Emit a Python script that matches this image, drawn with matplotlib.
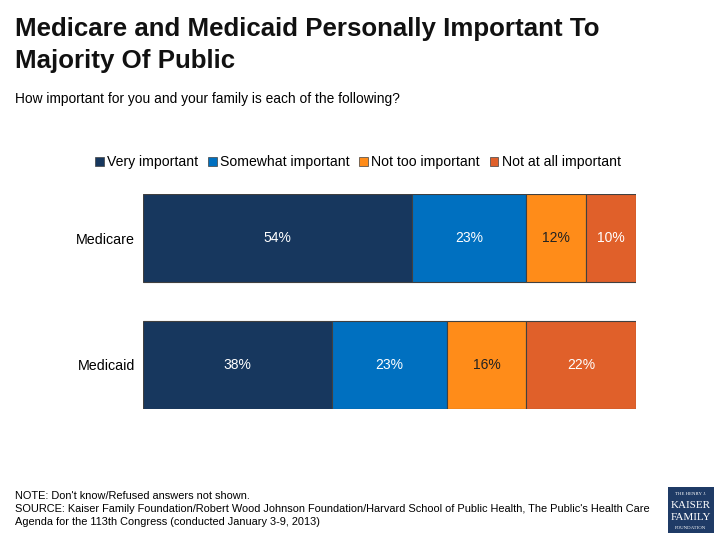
import matplotlib.pyplot as plt
from matplotlib.patches import Patch, Rectangle

plt.rcParams['font.family'] = ['Liberation Sans', 'DejaVu Sans']

programs = ["Medicare", "Medicaid"]
categories = ["Very important", "Somewhat important", "Not too important", "Not at all important"]
values = {
    "Very important": [54, 38],
    "Somewhat important": [23, 23],
    "Not too important": [12, 16],
    "Not at all important": [10, 22],
}
colors = ["#17375E", "#0070C0", "#FF8C19", "#E0602A"]
label_colors = ["white", "white", "#222222", "white"]

fig = plt.figure(figsize=(7.2, 5.4), dpi=100)
ax = fig.add_axes([143 / 720, 1 - 409 / 540, 493 / 720, 215 / 540])

bar_h = 0.693
ypos = list(range(len(programs)))
left = [0] * len(programs)
for cat, col, lc in zip(categories, colors, label_colors):
    vals = values[cat]
    ax.barh(ypos, vals, left=left, height=bar_h, color=col,
            edgecolor="#404040", linewidth=0.8)
    for y, v, l in zip(ypos, vals, left):
        ax.text(l + v / 2, y, f"{v}%", ha="center", va="center",
                color=lc, fontsize=10)
    left = [l + v for l, v in zip(left, vals)]

ax.set_xlim(0, 99)
ax.set_ylim(len(programs) - 1 + bar_h / 2, -bar_h / 2)
ax.set_yticks(ypos)
ax.set_yticklabels(programs, fontsize=10.3)
ax.tick_params(axis="y", length=0, pad=5.5)
ax.set_xticks([])
for s in ax.spines.values():
    s.set_visible(False)

handles = [Patch(facecolor=c, edgecolor="#404040", linewidth=0.5) for c in colors]
fig.legend(handles, categories, loc="center", bbox_to_anchor=(358 / 720, 1 - 162 / 540),
           ncol=4, frameon=False, fontsize=10.1, handlelength=0.6, handleheight=0.6,
           handletextpad=0.25, columnspacing=0.7)

title_lines = ["Medicare and Medicaid Personally Important To", "Majority Of Public"]
for line, base in zip(title_lines, [36, 68]):
    fig.text(15 / 720, 1 - base / 540, line, fontsize=18.6, fontweight="bold",
             va="baseline", ha="left", color="#111111")
fig.text(15 / 720, 1 - 99 / 540, "How important for you and your family is each of the following?",
         fontsize=9.9, va="center", ha="left")

notes = ("NOTE: Don't know/Refused answers not shown.\n"
         "SOURCE: Kaiser Family Foundation/Robert Wood Johnson Foundation/Harvard School of Public Health, The Public's Health Care\n"
         "Agenda for the 113th Congress (conducted January 3-9, 2013)")
fig.text(15 / 720, 1 - 509 / 540, notes, fontsize=7.9, va="center", ha="left", linespacing=1.35)

# logo
fig.patches.append(Rectangle((668 / 720, 1 - 533 / 540), 46 / 720, 46 / 540,
                             transform=fig.transFigure, facecolor="#1F3B66", edgecolor="none"))
fig.text(691 / 720, 1 - 494 / 540, "THE HENRY J.", fontsize=3.5, color="white",
         ha="center", va="center", family="Liberation Serif")
fig.text(691 / 720, 1 - 505 / 540, "KAISER", fontsize=8, color="white",
         ha="center", va="center", family="Liberation Serif")
fig.text(691 / 720, 1 - 518 / 540, "FAMILY", fontsize=8, color="white",
         ha="center", va="center", family="Liberation Serif")
fig.text(691 / 720, 1 - 528 / 540, "FOUNDATION", fontsize=3.5, color="white",
         ha="center", va="center", family="Liberation Serif")

fig.savefig("out.png", dpi=100)
